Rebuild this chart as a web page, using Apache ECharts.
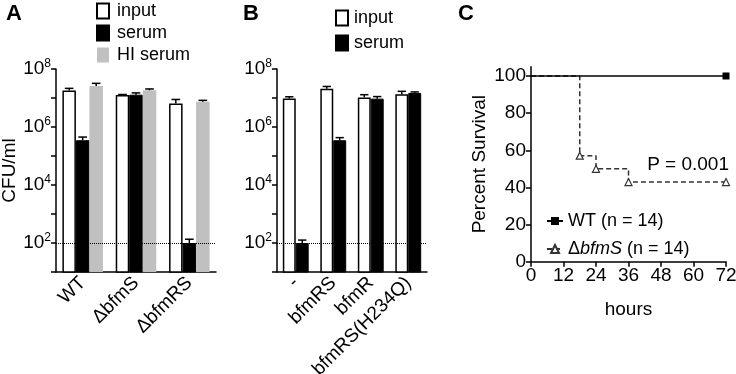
<!DOCTYPE html>
<html>
<head>
<meta charset="utf-8">
<script src="https://cdn.jsdelivr.net/npm/echarts@6/dist/echarts.min.js"></script>
<style>
  html, body { margin: 0; background: #fff; }
  #chart { width: 736px; height: 374px; }
</style>
</head>
<body>
<div id="chart"></div>
<script>
// panel A: serum killing of strains
const strainsA = ['WT', 'ΔbfmS', 'ΔbfmRS'];
const inputA = [1.8e7, 1.26e7, 6.5e6];
const inputAErr = [2.15e7, 1.32e7, 8.9e6];
const serumA = [3.5e5, 1.3e7, 100];
const serumAErr = [4.5e5, 1.5e7, 135];
const hiSerumA = [2.6e7, 1.85e7, 7.4e6];
const hiSerumAErr = [3.2e7, 2.05e7, 8.3e6];

// panel B: complementation
const plasmidsB = ['-', 'bfmRS', 'bfmR', 'bfmRS(H234Q)'];
const inputB = [9.6e6, 2.1e7, 1.05e7, 1.35e7];
const inputBErr = [1.1e7, 2.5e7, 1.3e7, 1.7e7];
const serumB = [100, 3.5e5, 9.5e6, 1.5e7];
const serumBErr = [126, 4.3e5, 1.12e7, 1.62e7];

const detectionLimit = 100;

// panel C: survival curves
const wtHours = [0, 72];
const wtSurvival = [100, 100];
const bfmSHours = [0, 18, 24, 36, 72];
const bfmSSurvival = [100, 57.1, 50, 42.9, 42.9];
const survivalTicks = [0, 20, 40, 60, 80, 100];

const FONT = 'Liberation Sans, Arial, sans-serif';
const GAP_A = 0.24;
const GAP_B = 0.31;

const chart = echarts.init(document.getElementById('chart'));

function errorBars(gi, means, tops, k, n, gap) {
  return {
    type: 'custom',
    xAxisIndex: gi,
    yAxisIndex: gi,
    z: 5,
    silent: true,
    data: tops.map((t, i) => [i, t]),
    renderItem(params, api) {
      const cat = api.value(0);
      const top = api.coord([cat, api.value(1)]);
      const base = api.coord([cat, means[cat]]);
      const bw = (api.size([1, 1])[0] * (1 - gap)) / n;
      const x = top[0] + (k - (n - 1) / 2) * bw;
      const cap = bw * 0.32;
      const st = { stroke: '#000', lineWidth: 1.5 };
      return {
        type: 'group',
        children: [
          { type: 'line', shape: { x1: x, y1: base[1], x2: x, y2: top[1] }, style: st },
          { type: 'line', shape: { x1: x - cap, y1: top[1], x2: x + cap, y2: top[1] }, style: st },
        ],
      };
    },
  };
}

const logLabel = (v) => {
  const e = Math.round(Math.log10(v));
  return e % 2 === 0 ? '{b|10}{s|' + e + '}' : '';
};

function logAxis(gi, name) {
  return {
    type: 'log',
    gridIndex: gi,
    logBase: 10,
    min: 10,
    max: 1e8,
    interval: 1,
    name: name,
    nameLocation: 'middle',
    nameGap: 37,
    nameTextStyle: { fontSize: 19, color: '#000', fontFamily: FONT },
    axisLine: { show: true, lineStyle: { color: '#000', width: 1.5 } },
    axisTick: { show: true, length: 5, lineStyle: { color: '#000', width: 1.5 } },
    splitLine: { show: false },
    axisLabel: {
      margin: 5,
      formatter: logLabel,
      color: '#000',
      rich: {
        b: { fontSize: 19, fontFamily: FONT, color: '#000', lineHeight: 22 },
        s: { fontSize: 12, fontFamily: FONT, color: '#000', verticalAlign: 'top', lineHeight: 13 },
      },
    },
  };
}

function catAxis(gi, data) {
  return {
    type: 'category',
    gridIndex: gi,
    data: data,
    axisLine: { lineStyle: { color: '#000', width: 1.5 } },
    axisTick: { alignWithLabel: true, length: 5, lineStyle: { color: '#000', width: 1.5 } },
    axisLabel: {
      rotate: 45,
      margin: 8,
      interval: 0,
      color: '#000',
      fontSize: 19,
      fontFamily: FONT,
    },
  };
}

const dotted = {
  silent: true,
  symbol: 'none',
  label: { show: false },
  lineStyle: { color: '#000', type: 'dotted', width: 1 },
  data: [{ yAxis: detectionLimit }],
};

const inputStyle = { color: '#fff', borderColor: '#000', borderWidth: 1.5 };
const serumStyle = { color: '#000', borderColor: '#000', borderWidth: 1 };
const hiStyle = { color: '#c0c0c0' };
const panelTitle = { fontSize: 22, fontWeight: 'bold', fontFamily: FONT, color: '#000' };

const option = {
  animation: false,
  textStyle: { fontFamily: FONT, color: '#000' },
  title: [
    { text: 'A', left: 1, top: -2, textStyle: panelTitle },
    { text: 'B', left: 238, top: -2, textStyle: panelTitle },
    { text: 'C', left: 453, top: -2, textStyle: panelTitle },
  ],
  legend: [
    {
      left: 91, top: -3, orient: 'vertical', itemWidth: 12, itemHeight: 15, itemGap: 4,
      icon: 'rect', selectedMode: false,
      data: ['input', 'serum', 'HI serum'],
      textStyle: { fontSize: 18, fontFamily: FONT, color: '#000', padding: [0, 0, 0, 3] },
    },
    {
      left: 330, top: 4, orient: 'vertical', itemWidth: 12, itemHeight: 15, itemGap: 7,
      icon: 'rect', selectedMode: false,
      data: ['input', 'serum'],
      textStyle: { fontSize: 18, fontFamily: FONT, color: '#000', padding: [0, 0, 0, 1] },
    },
    {
      left: 541, top: 207, orient: 'vertical', itemWidth: 16, itemHeight: 10, itemGap: 10,
      selectedMode: false,
      data: ['WT', 'ΔbfmS'],
      formatter: (n) => (n === 'WT' ? 'WT (n = 14)' : 'Δ{i|bfmS} (n = 14)'),
      textStyle: {
        fontSize: 18, fontFamily: FONT, color: '#000',
        rich: { i: { fontSize: 18, fontFamily: FONT, color: '#000', fontStyle: 'italic' } },
      },
    },
  ],
  graphic: [
    {
      type: 'text', right: 7, top: 155,
      style: { text: 'P = 0.001', font: '19px ' + FONT, fill: '#000' },
    },
  ],
  grid: [
    { left: 56, top: 69, width: 160, height: 203, outerBoundsMode: 'none', containLabel: false },
    { left: 277, top: 69, width: 150, height: 203, outerBoundsMode: 'none', containLabel: false },
    { left: 531, top: 66.7, width: 195, height: 195, outerBoundsMode: 'none', containLabel: false },
  ],
  xAxis: [
    catAxis(0, strainsA),
    catAxis(1, plasmidsB),
    {
      type: 'value', gridIndex: 2, min: 0, max: 72, interval: 12,
      name: 'hours', nameLocation: 'middle', nameGap: 39,
      nameTextStyle: { fontSize: 19, color: '#000', fontFamily: FONT },
      axisLine: { lineStyle: { color: '#000', width: 1.5 } },
      axisTick: { length: 5, lineStyle: { color: '#000', width: 1.5 } },
      splitLine: { show: false },
      axisLabel: { fontSize: 19, color: '#000', fontFamily: FONT, margin: 5 },
    },
  ],
  yAxis: [
    logAxis(0, 'CFU/ml'),
    logAxis(1, ''),
    {
      type: 'value', gridIndex: 2, min: 0, max: 105, interval: 20,
      name: 'Percent Survival', nameLocation: 'middle', nameGap: 42,
      nameTextStyle: { fontSize: 19, color: '#000', fontFamily: FONT },
      axisLine: { show: true, lineStyle: { color: '#000', width: 1.5 } },
      axisTick: { show: true, length: 5, customValues: survivalTicks, lineStyle: { color: '#000', width: 1.5 } },
      splitLine: { show: false },
      axisLabel: { fontSize: 19, color: '#000', fontFamily: FONT, margin: 5, customValues: survivalTicks },
    },
  ],
  series: [
    { name: 'input', type: 'bar', xAxisIndex: 0, yAxisIndex: 0, data: inputA, itemStyle: inputStyle, barGap: '0%', barCategoryGap: GAP_A * 100 + '%', clip: true, markLine: dotted },
    { name: 'serum', type: 'bar', xAxisIndex: 0, yAxisIndex: 0, data: serumA, itemStyle: serumStyle, barGap: '0%', barCategoryGap: GAP_A * 100 + '%', clip: true },
    { name: 'HI serum', type: 'bar', xAxisIndex: 0, yAxisIndex: 0, data: hiSerumA, itemStyle: hiStyle, barGap: '0%', barCategoryGap: GAP_A * 100 + '%', clip: true },
    errorBars(0, inputA, inputAErr, 0, 3, GAP_A),
    errorBars(0, serumA, serumAErr, 1, 3, GAP_A),
    errorBars(0, hiSerumA, hiSerumAErr, 2, 3, GAP_A),

    { name: 'input', type: 'bar', xAxisIndex: 1, yAxisIndex: 1, data: inputB, itemStyle: inputStyle, barGap: '0%', barCategoryGap: GAP_B * 100 + '%', clip: true, markLine: dotted },
    { name: 'serum', type: 'bar', xAxisIndex: 1, yAxisIndex: 1, data: serumB, itemStyle: serumStyle, barGap: '0%', barCategoryGap: GAP_B * 100 + '%', clip: true },
    errorBars(1, inputB, inputBErr, 0, 2, GAP_B),
    errorBars(1, serumB, serumBErr, 1, 2, GAP_B),

    {
      name: 'ΔbfmS', type: 'line', xAxisIndex: 2, yAxisIndex: 2, step: 'end',
      data: bfmSHours.map((h, i) => (i === 0 ? { value: [h, bfmSSurvival[i]], symbol: 'none' } : [h, bfmSSurvival[i]])),
      symbol: 'triangle', symbolSize: 7,
      itemStyle: { color: '#fff', borderColor: '#333', borderWidth: 1.2 },
      lineStyle: { color: '#333', width: 1.5, type: [5, 3] },
      z: 3,
    },
    {
      name: 'WT', type: 'line', xAxisIndex: 2, yAxisIndex: 2,
      data: wtHours.map((h, i) => (i === 0 ? { value: [h, wtSurvival[i]], symbol: 'none' } : [h, wtSurvival[i]])),
      symbol: 'rect', symbolSize: 7,
      itemStyle: { color: '#000' },
      lineStyle: { color: '#000', width: 1.5 },
      z: 4,
    },
  ],
};

chart.setOption(option);
</script>
</body>
</html>
